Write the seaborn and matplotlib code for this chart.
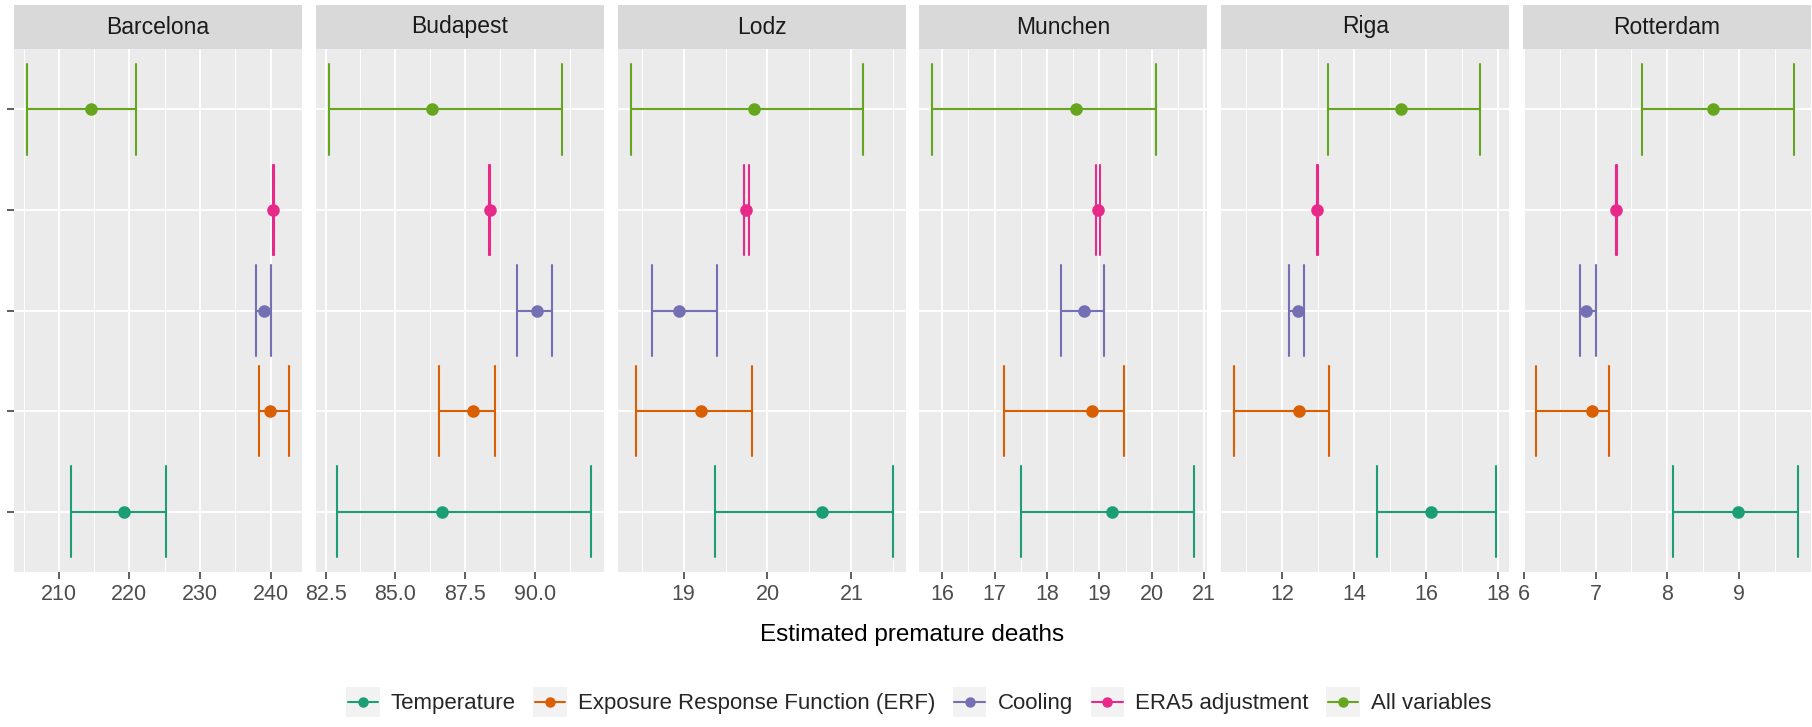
import numpy as np
import pandas as pd
import matplotlib
matplotlib.use("Agg")
import matplotlib.pyplot as plt
import seaborn as sns
from matplotlib.patches import Rectangle
from matplotlib.lines import Line2D
from matplotlib.legend_handler import HandlerBase

# ---------------- data ----------------
cities = ["Barcelona", "Budapest", "Lodz", "Munchen", "Riga", "Rotterdam"]

temp_mean = [219.3, 86.66, 20.65, 19.24, 16.13, 8.98]
temp_lo = [211.7, 82.90, 19.37, 17.50, 14.64, 8.08]
temp_hi = [225.2, 92.00, 21.49, 20.81, 17.95, 9.82]

erf_mean = [239.9, 87.78, 19.21, 18.86, 12.49, 6.95]
erf_lo = [238.4, 86.58, 18.43, 17.17, 10.68, 6.17]
erf_hi = [242.6, 88.57, 19.82, 19.46, 13.32, 7.19]

cool_mean = [239.0, 90.06, 18.95, 18.71, 12.44, 6.86]
cool_lo = [237.9, 89.35, 18.62, 18.26, 12.21, 6.78]
cool_hi = [240.0, 90.62, 19.40, 19.09, 12.62, 7.00]

era5_mean = [240.4, 88.38, 19.75, 18.975, 12.99, 7.29]
era5_lo = [240.37, 88.36, 19.725, 18.94, 12.985, 7.283]
era5_hi = [240.43, 88.40, 19.777, 19.01, 12.995, 7.297]

all_mean = [214.5, 86.31, 19.84, 18.56, 15.30, 8.63]
all_lo = [205.5, 82.62, 18.37, 15.815, 13.27, 7.64]
all_hi = [221.0, 90.97, 21.14, 20.07, 17.50, 9.76]

scenarios = ["Temperature", "Exposure Response Function (ERF)", "Cooling",
             "ERA5 adjustment", "All variables"]
series = {
    "Temperature": (temp_lo, temp_mean, temp_hi),
    "Exposure Response Function (ERF)": (erf_lo, erf_mean, erf_hi),
    "Cooling": (cool_lo, cool_mean, cool_hi),
    "ERA5 adjustment": (era5_lo, era5_mean, era5_hi),
    "All variables": (all_lo, all_mean, all_hi),
}

major_ticks = {
    "Barcelona": [210, 220, 230, 240],
    "Budapest": [82.5, 85.0, 87.5, 90.0],
    "Lodz": [19, 20, 21],
    "Munchen": [16, 17, 18, 19, 20, 21],
    "Riga": [12, 14, 16, 18],
    "Rotterdam": [6, 7, 8, 9],
}
tick_labels = {
    "Barcelona": ["210", "220", "230", "240"],
    "Budapest": ["82.5", "85.0", "87.5", "90.0"],
    "Lodz": ["19", "20", "21"],
    "Munchen": ["16", "17", "18", "19", "20", "21"],
    "Riga": ["12", "14", "16", "18"],
    "Rotterdam": ["6", "7", "8", "9"],
}

colors = {
    "Temperature": "#1B9E77",
    "Exposure Response Function (ERF)": "#D95F02",
    "Cooling": "#7570B3",
    "ERA5 adjustment": "#E7298A",
    "All variables": "#66A61E",
}

# long table: lo / mean / hi per (city, scenario); median -> mean, min/max -> interval
rows = []
for s in scenarios:
    lo, me, hi = series[s]
    for c, l, m, h in zip(cities, lo, me, hi):
        for v in (l, m, h):
            rows.append({"city": c, "scenario": s, "value": v})
df = pd.DataFrame(rows)

y_order = scenarios[::-1]  # top -> bottom

# ---------------- style ----------------
sns.set_theme(style="darkgrid", rc={
    "axes.facecolor": "#EBEBEB",
    "grid.color": "white",
    "figure.facecolor": "white",
})
plt.rcParams["font.family"] = ["Liberation Sans", "DejaVu Sans"]

W, H = 1812, 727
fig = plt.figure(figsize=(W / 100, H / 100), dpi=100)

left0, pw, step = 14, 288, 301.8
top, bottom = 49, 572
strip_top = 5

for i, c in enumerate(cities):
    x0 = left0 + i * step
    ax = fig.add_axes([x0 / W, 1 - bottom / H, pw / W, (bottom - top) / H])
    sub = df[df.city == c]
    sns.pointplot(
        data=sub, x="value", y="scenario", hue="scenario",
        order=y_order, hue_order=scenarios, palette=colors,
        estimator="median", errorbar=lambda v: (v.min(), v.max()),
        capsize=0.9, linestyle="none", markers="o", markersize=7,
        err_kws={"linewidth": 1.5}, dodge=False, legend=False,
        orient="h", ax=ax,
    )
    vals = sub["value"]
    r = vals.max() - vals.min()
    ax.set_ylim(4.6, -0.6)

    mt = major_ticks[c]
    d = mt[1] - mt[0]
    minors = [mt[0] - d / 2 + k * d for k in range(len(mt) + 2)]
    ax.set_xticks(mt)
    ax.set_xticklabels(tick_labels[c])
    ax.set_xticks(minors, minor=True)
    ax.set_xlim(vals.min() - 0.05 * r, vals.max() + 0.05 * r)

    ax.set_axisbelow(True)
    ax.grid(which="major", axis="x", color="white", linewidth=1.3)
    ax.grid(which="minor", axis="x", color="white", linewidth=0.65)
    ax.yaxis.grid(True, color="white", linewidth=1.3)
    for sp in ax.spines.values():
        sp.set_visible(False)
    ax.set_xlabel("")
    ax.set_ylabel("")
    ax.tick_params(axis="x", which="major", length=5, width=1.1, color="#333333",
                   labelsize=15.5, labelcolor="#4D4D4D", pad=4, bottom=True)
    ax.tick_params(axis="x", which="minor", length=0)
    ax.set_yticks(range(5))
    ax.set_yticklabels([""] * 5)
    if i == 0:
        ax.tick_params(axis="y", length=5, width=1.1, color="#333333", left=True)
    else:
        ax.tick_params(axis="y", length=0)

    # facet strip
    fig.add_artist(Rectangle((x0 / W, 1 - top / H), pw / W, (top - strip_top) / H,
                             transform=fig.transFigure, facecolor="#D9D9D9",
                             edgecolor="none"))
    fig.text((x0 + pw / 2) / W, 1 - (top + strip_top) / 2 / H, c,
             ha="center", va="center", fontsize=16.5, color="#1A1A1A")

fig.text((left0 + 5 * step + pw + left0) / 2 / W, 1 - 635 / H,
         "Estimated premature deaths", ha="center", va="center",
         fontsize=17.5, color="black")


class KeyHandler(HandlerBase):
    def create_artists(self, legend, orig_handle, xdescent, ydescent,
                       width, height, fontsize, trans):
        col = orig_handle.get_color()
        bg = Rectangle((-xdescent, -ydescent), width, height,
                       facecolor="#F2F2F2", edgecolor="none", transform=trans)
        ym = -ydescent + height / 2
        ln = Line2D([-xdescent + 1, -xdescent + width - 1], [ym, ym], color=col,
                    linewidth=1.5, transform=trans)
        pt = Line2D([-xdescent + width / 2], [ym], marker="o", markersize=6.5,
                    color=col, linestyle="none", transform=trans)
        return [bg, ln, pt]


handles = [Line2D([], [], color=colors[s]) for s in scenarios]
fig.legend(handles, scenarios, loc="center", bbox_to_anchor=(0.507, 1 - 702 / H),
           ncol=5, frameon=False, fontsize=16, handler_map={Line2D: KeyHandler()},
           handlelength=1.5, handleheight=1.7, handletextpad=0.5,
           columnspacing=0.8)

fig.savefig("out.png", dpi=100)
